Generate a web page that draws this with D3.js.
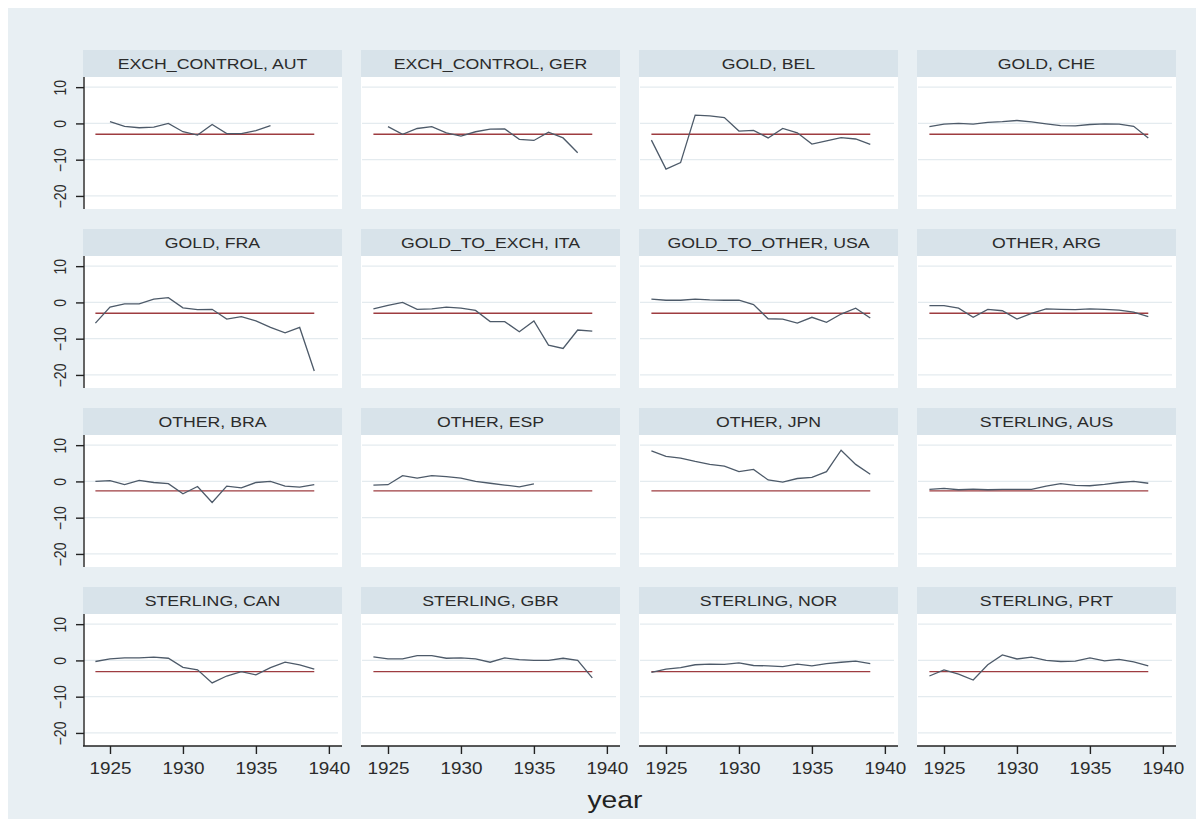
<!DOCTYPE html>
<html>
<head>
<meta charset="utf-8">
<script src="https://cdn.jsdelivr.net/npm/d3@7"></script>
<style>
  body { margin: 0; background: #fff; }
  svg { display: block; font-family: "Liberation Sans", Arial, sans-serif; }
</style>
</head>
<body>
<div id="chart"></div>
<script>
// years on the x axis
var years = [1924, 1925, 1926, 1927, 1928, 1929, 1930, 1931, 1932, 1933, 1934, 1935, 1936, 1937, 1938, 1939];

var titles = ["EXCH_CONTROL, AUT", "EXCH_CONTROL, GER", "GOLD, BEL", "GOLD, CHE",
              "GOLD, FRA", "GOLD_TO_EXCH, ITA", "GOLD_TO_OTHER, USA", "OTHER, ARG",
              "OTHER, BRA", "OTHER, ESP", "OTHER, JPN", "STERLING, AUS",
              "STERLING, CAN", "STERLING, GBR", "STERLING, NOR", "STERLING, PRT"];

// one series per panel, 1924..1939 (null = no data)
var aut = [null, 0.5, -0.8, -1.2, -1.0, 0.0, -2.3, -3.2, -0.3, -2.8, -2.8, -2.0, -0.6, null, null, null];
var ger = [null, -0.9, -3.0, -1.4, -0.9, -2.6, -3.5, -2.3, -1.6, -1.5, -4.4, -4.7, -2.4, -4.0, -8.1, null];
var bel = [-4.6, -12.6, -10.8, 2.3, 2.1, 1.6, -2.1, -1.9, -4.0, -1.4, -2.6, -5.7, -4.8, -3.9, -4.3, -5.8];
var che = [-0.9, -0.2, 0.0, -0.2, 0.3, 0.5, 0.8, 0.4, -0.1, -0.6, -0.7, -0.3, -0.1, -0.2, -0.8, -4.0];
var fra = [-5.7, -1.3, -0.4, -0.4, 0.9, 1.3, -1.5, -2.0, -1.9, -4.6, -3.9, -5.1, -6.9, -8.4, -6.9, -18.9];
var ita = [-1.8, -0.8, 0.0, -1.9, -1.8, -1.3, -1.6, -2.2, -5.3, -5.3, -8.1, -5.1, -11.8, -12.7, -7.6, -7.9];
var usa = [0.9, 0.6, 0.6, 0.9, 0.7, 0.6, 0.6, -0.6, -4.5, -4.6, -5.7, -4.1, -5.5, -3.2, -1.6, -4.3];
var arg = [-0.9, -0.9, -1.6, -4.1, -1.9, -2.3, -4.6, -3.0, -1.8, -1.9, -2.0, -1.8, -1.9, -2.1, -2.7, -3.9];
var bra = [0.0, 0.2, -0.9, 0.3, -0.3, -0.6, -3.4, -1.4, -5.8, -1.3, -1.8, -0.3, 0.0, -1.3, -1.6, -0.9];
var esp = [-1.0, -0.9, 1.6, 0.9, 1.6, 1.3, 0.9, 0.0, -0.5, -1.0, -1.5, -0.7, null, null, null, null];
var jpn = [8.4, 6.9, 6.4, 5.5, 4.7, 4.2, 2.7, 3.3, 0.4, -0.2, 0.8, 1.1, 2.7, 8.6, 4.7, 2.0];
var aus = [-2.2, -1.9, -2.3, -2.1, -2.3, -2.2, -2.2, -2.2, -1.3, -0.6, -1.1, -1.2, -0.8, -0.3, 0.0, -0.5];
var can = [-0.3, 0.4, 0.7, 0.7, 0.9, 0.6, -1.9, -2.6, -6.2, -4.3, -3.1, -4.0, -2.0, -0.5, -1.2, -2.4];
var gbr = [1.0, 0.4, 0.4, 1.3, 1.3, 0.6, 0.7, 0.4, -0.5, 0.7, 0.2, 0.0, 0.0, 0.6, 0.0, -4.8];
var nor = [-3.3, -2.4, -2.0, -1.2, -1.0, -1.1, -0.7, -1.4, -1.5, -1.7, -1.0, -1.5, -0.9, -0.5, -0.2, -0.9];
var prt = [-4.3, -2.6, -3.8, -5.4, -1.2, 1.5, 0.4, 0.9, 0.0, -0.3, -0.2, 0.7, -0.1, 0.3, -0.4, -1.5];

var series = [aut, ger, bel, che, fra, ita, usa, arg, bra, esp, jpn, aus, can, gbr, nor, prt];

// horizontal reference line, per panel
var refLine = [-3, -3, -3, -3, -3, -3, -3, -3, -2.6, -2.6, -2.6, -2.6, -3.1, -3.1, -3.1, -3.1];

var yTicks = [-20, -10, 0, 10];
var xTicks = [1925, 1930, 1935, 1940];

var width = 1204, height = 819;
var stretch = 1.18;            // text in the reference is a bit wider than tall
var panelW = 259, panelH = 132, stripH = 27;
var colX = c => 83 + c * 278;
var rowY = r => 50 + r * 179;  // top of the strip

var x = d3.scaleLinear().domain([1923.15, 1940.9]).range([0, panelW]);
var y = d3.scaleLinear().domain([-23.6, 12.8]).range([panelH, 0]);

var line = d3.line()
    .defined(d => d[1] != null)
    .x(d => x(d[0]))
    .y(d => y(d[1]));

var svg = d3.select("#chart").append("svg")
    .attr("width", width)
    .attr("height", height);

svg.append("rect")
    .attr("x", 8).attr("y", 8)
    .attr("width", 1188).attr("height", height - 8)
    .attr("fill", "#e8eff3");

titles.forEach((t, i) => {
    var c = i % 4, r = Math.floor(i / 4);
    var g = svg.append("g").attr("transform", `translate(${colX(c)},${rowY(r)})`);

    // strip
    g.append("rect")
        .attr("width", panelW).attr("height", stripH)
        .attr("fill", "#d8e3ea");
    g.append("text")
        .attr("transform", `translate(${panelW / 2},${stripH / 2 + 5.5}) scale(${stretch},1)`)
        .attr("text-anchor", "middle")
        .attr("font-size", 15)
        .attr("fill", "#2b2b2b")
        .text(t);

    var p = g.append("g").attr("transform", `translate(0,${stripH})`);
    p.append("rect")
        .attr("width", panelW).attr("height", panelH)
        .attr("fill", "#fff");

    p.selectAll(".grid")
        .data(yTicks)
        .join("line")
        .attr("x1", 1).attr("x2", panelW - 4)
        .attr("y1", d => y(d)).attr("y2", d => y(d))
        .attr("stroke", "#e4ebef")
        .attr("stroke-width", 1.2);

    var pts = years.map((yr, k) => [yr, series[i][k]]);

    p.append("line")
        .attr("x1", x(years[0])).attr("x2", x(years[years.length - 1]))
        .attr("y1", y(refLine[i])).attr("y2", y(refLine[i]))
        .attr("stroke", "#9e3c40")
        .attr("stroke-width", 1.4);

    p.append("path")
        .datum(pts)
        .attr("d", line)
        .attr("fill", "none")
        .attr("stroke", "#4d5a69")
        .attr("stroke-width", 1.3);

    if (c === 0) {
        var ya = p.append("g")
            .attr("transform", "translate(1,0)")
            .call(d3.axisLeft(y).tickValues(yTicks).tickSize(8).tickFormat(d3.format("d")));
        ya.select(".domain").attr("stroke", "#222").attr("stroke-width", 1.4)
            .attr("d", `M0,0V${panelH}`);
        ya.selectAll(".tick line").attr("stroke", "#222").attr("stroke-width", 1.4);
        ya.selectAll(".tick text")
            .attr("x", null).attr("dy", null)
            .attr("transform", `scale(${stretch},1) translate(-15,0) rotate(-90)`)
            .attr("text-anchor", "middle")
            .attr("font-size", 14)
            .attr("fill", "#2b2b2b");
    }
    if (r === 3) {
        var xa = p.append("g")
            .attr("transform", `translate(0,${panelH})`)
            .call(d3.axisBottom(x).tickValues(xTicks).tickSize(8).tickFormat(d3.format("d")));
        xa.select(".domain").attr("stroke", "#222").attr("stroke-width", 1.4)
            .attr("d", `M0,0H${panelW}`);
        xa.selectAll(".tick line").attr("stroke", "#222").attr("stroke-width", 1.4);
        xa.selectAll(".tick text")
            .attr("y", null).attr("dy", null)
            .attr("transform", `translate(0,28) scale(${stretch},1)`)
            .attr("font-size", 16)
            .attr("fill", "#2b2b2b");
    }
});

svg.append("text")
    .attr("transform", `translate(615,808) scale(${stretch},1)`)
    .attr("text-anchor", "middle")
    .attr("font-size", 24)
    .attr("fill", "#222")
    .text("year");
</script>
</body>
</html>
